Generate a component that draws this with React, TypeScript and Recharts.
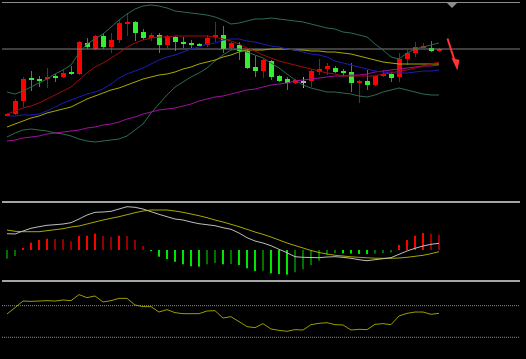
import React from "react";
import { ComposedChart, Bar, Line, XAxis, YAxis, ReferenceLine } from "recharts";

// price panel (arbitrary price units)
const opens = [85, 86, 99, 122, 121, 122, 124, 123, 128, 126, 157, 151, 164, 153, 160, 176, 178, 168, 162, 165, 155, 163, 158, 157, 156, 155, 163, 165, 152, 155, 149, 133, 129, 139, 124, 121, 117, 119, 119, 128, 131, 132, 129, 128, 117, 119, 115, 124, 126, 123, 141, 147, 152, 152, 149];
const highs = [87, 101, 123, 129, 124, 132, 126, 131, 134, 159, 162, 165, 167, 167, 180, 187, 179, 171, 167, 167, 165, 164, 163, 160, 157, 165, 178, 174, 158, 158, 150, 144, 141, 140, 125, 123, 121, 123, 131, 141, 137, 134, 131, 137, 120, 130, 125, 130, 128, 147, 150, 158, 157, 159, 152];
const lows = [84, 85, 93, 109, 113, 112, 118, 122, 125, 125, 151, 150, 151, 147, 157, 164, 159, 160, 159, 147, 152, 149, 152, 152, 154, 153, 158, 147, 150, 140, 131, 123, 122, 120, 118, 110, 116, 112, 113, 125, 125, 127, 124, 108, 97, 110, 114, 123, 118, 118, 135, 143, 152, 148, 148];
const closes = [86, 99, 121, 120, 119, 123, 122, 127, 126, 158, 153, 164, 153, 160, 177, 178, 167, 162, 165, 155, 164, 158, 156, 156, 155, 162, 165, 151, 157, 149, 132, 129, 140, 123, 119, 117, 120, 119, 129, 131, 134, 128, 127, 117, 119, 115, 124, 126, 122, 141, 147, 153, 154, 149, 151];
const lastBid = 151;

const bbUpper = [108, 106, 109, 113, 117, 121, 126, 130, 135, 147, 156, 161, 166, 173, 180, 186, 191, 194, 195, 194, 192, 189, 188, 187, 186, 185, 183, 180, 176, 177, 179, 181, 181, 182, 181, 180, 179, 178, 176, 174, 172, 171, 168, 167, 165, 163, 156, 150, 143, 141, 147, 151, 153, 155, 157];
const bbLower = [63, 67, 70, 71, 70, 69, 67, 66, 64, 61, 59, 58, 59, 60, 61, 64, 70, 76, 87, 96, 105, 113, 118, 123, 127, 132, 139, 145, 150, 151, 148, 145, 142, 137, 132, 126, 120, 115, 112, 110, 108, 108, 107, 106, 104, 103, 105, 108, 110, 112, 110, 108, 106, 105, 105];
const maRed = [86, 89, 92, 94, 97, 101, 105, 109, 113, 120, 127, 133, 137, 142, 147, 153, 157, 160, 162, 163, 163, 164, 164, 164, 164, 164, 163, 161, 159, 156, 152, 149, 145, 142, 139, 137, 135, 133, 131, 129, 127, 126, 124, 124, 124, 124, 124, 126, 127, 129, 130, 132, 134, 136, 138];
const maBlue = [84, 84, 85, 85, 86, 89, 93, 97, 100, 103, 106, 108, 111, 116, 122, 126, 129, 132, 136, 140, 143, 145, 148, 151, 153, 156, 157, 160, 161, 161, 159, 158, 156, 154, 153, 151, 150, 148, 146, 145, 143, 139, 137, 135, 133, 131, 129, 128, 127, 127, 127, 128, 129, 129, 130];
const maOlive = [73, 76, 79, 82, 84, 87, 89, 91, 93, 97, 101, 104, 107, 110, 112, 115, 118, 121, 123, 125, 126, 128, 131, 133, 136, 138, 140, 143, 145, 148, 150, 150, 150, 151, 151, 151, 150, 150, 149, 149, 148, 148, 147, 146, 144, 142, 140, 138, 137, 136, 136, 136, 136, 136, 136];
const maPurple = [59, 60, 62, 63, 64, 66, 67, 68, 69, 70, 72, 73, 75, 76, 78, 81, 83, 86, 88, 90, 91, 92, 94, 96, 99, 101, 103, 104, 106, 108, 110, 111, 113, 115, 116, 117, 119, 120, 121, 122, 123, 124, 124, 125, 125, 126, 128, 129, 130, 131, 132, 133, 134, 134, 135];

// MACD panel
const macdHist = [-8.7, -6, 2, 7.3, 10, 11.3, 11, 10.7, 8.7, 14, 14.3, 16.3, 14, 13, 14.3, 14, 10, 4, -0.7, -6.7, -9, -11.7, -14.3, -16.3, -16.7, -14.3, -13, -14.3, -14, -15, -18.3, -21, -20.7, -23.3, -24, -24.7, -22.3, -19.3, -15, -10.7, -5, -3, -3.3, -3.6, -3.9, -4.2, -3.5, -3, -2.5, 5, 10, 14.3, 17, 16.3, 15.3];
const macdMain = [16.3, 16, 19, 21.7, 23.3, 24.7, 25.3, 26, 27.3, 31, 35, 37.7, 38, 38.7, 41, 43.3, 42.7, 41, 38.3, 35.7, 33.3, 31, 30, 28, 26.3, 25.3, 24.3, 22.3, 20.7, 17, 12.3, 9, 7, 4.3, 0.7, -2.7, -6.7, -7.3, -7.5, -7.7, -7, -6.7, -7.3, -8.3, -9.7, -10.7, -9.7, -8.7, -7.7, -4.3, -1, 1.7, 4, 5.7, 6.7];
const macdSignal = [20, 18.7, 18.3, 18.3, 18.3, 19.3, 20.3, 21.3, 23, 24, 26, 28, 30, 31.7, 33.3, 35.3, 37.3, 39, 40, 40, 40, 39, 37.7, 36, 34.3, 32.3, 30, 28, 25.7, 23.3, 20.7, 18, 15.7, 13, 10, 7, 4.5, 2, -0.5, -2.5, -4, -5.3, -6, -6.8, -7.3, -7.8, -8.2, -8.3, -8.3, -8, -7.3, -6.3, -5.3, -3.7, -1.7];

// RSI panel
const rsi = [59.5, 67.5, 75.9, 75.5, 75.9, 76.4, 75.9, 77.2, 76.4, 84, 80.2, 82.3, 74.7, 76.4, 79.3, 79.3, 70.9, 68.8, 68.8, 62, 65, 61.2, 59.9, 59.9, 59.9, 63.3, 63.7, 54.4, 56.1, 49.8, 43.5, 42.2, 47.3, 40.5, 38.8, 37.6, 39.7, 39.2, 46, 47.7, 48.5, 46, 45.6, 39.2, 40.1, 39.7, 46.4, 47.3, 46, 57, 60.3, 62, 62, 59.1, 60.3];
const rsiLevels = [70, 30];

const rows = opens.map((open, i) => {
  const h = macdHist[i];
  const prev = i > 0 ? macdHist[i - 1] : h;
  let histColor;
  if (h >= 0) histColor = h > prev ? "#ff0000" : "#940000";
  else histColor = h < prev ? "#00e600" : "#007000";
  return {
    i,
    open,
    high: highs[i],
    low: lows[i],
    close: closes[i],
    range: [lows[i], highs[i]],
    bbUpper: bbUpper[i],
    bbLower: bbLower[i],
    maRed: maRed[i],
    maBlue: maBlue[i],
    maOlive: maOlive[i],
    maPurple: maPurple[i],
    hist: h,
    histColor,
    macd: macdMain[i],
    signal: macdSignal[i],
    rsi: rsi[i],
  };
});

const W = 526;
const X_DOMAIN = [-0.625, 64.125];
const MARGIN = { top: 0, right: 6, bottom: 0, left: 2 };

function Candle(props: any) {
  const { x, y, width, height, payload } = props;
  if (x == null || y == null) return null;
  const top = Math.min(y, y + height);
  const h = Math.abs(height);
  const { open, high, low, close } = payload;
  const span = high - low || 1;
  const yAt = (v: number) => top + ((high - v) / span) * h;
  const cx = Math.round(x + width / 2);
  const doji = open === close;
  const up = close > open;
  const body = doji ? "#b0b0b0" : up ? "#ff0000" : "#33ee33";
  const wick = doji ? "#b0b0b0" : up ? "#c40000" : "#1f9f1f";
  const bTop = Math.round(yAt(Math.max(open, close)));
  const bBot = Math.round(yAt(Math.min(open, close)));
  return (
    <g>
      <line x1={cx + 0.5} x2={cx + 0.5} y1={Math.round(top)} y2={Math.round(top + h)} stroke={wick} strokeWidth={1} />
      <rect x={cx - 2} y={bTop} width={5} height={Math.max(2, bBot - bTop)} fill={body} />
    </g>
  );
}

function HistBar(props: any) {
  const { x, y, width, height, payload } = props;
  if (x == null || y == null) return null;
  const top = Math.min(y, y + height);
  const h = Math.max(1, Math.abs(height));
  return <rect x={Math.round(x + width / 2) - 1} y={top} width={2} height={h} fill={payload.histColor} />;
}

const box = (top: number, height: number): React.CSSProperties => ({
  position: "absolute",
  left: 0,
  top,
  width: W,
  height,
});

export default function App() {
  return (
    <div style={{ position: "absolute", left: 0, top: 0, width: W, height: 359, background: "#000", overflow: "hidden" }}>
      {/* frame lines */}
      <div style={{ position: "absolute", left: 2, top: 2, width: 518, height: 1, background: "#8c8c8c" }} />
      <div style={{ position: "absolute", left: 2, top: 201, width: 518, height: 2, background: "#a4a4a4" }} />
      <div style={{ position: "absolute", left: 2, top: 280, width: 518, height: 2, background: "#a4a4a4" }} />

      <div style={box(0, 200)}>
        <ComposedChart width={W} height={200} data={rows} margin={MARGIN}>
          <XAxis dataKey="i" type="number" domain={X_DOMAIN} allowDataOverflow hide />
          <YAxis type="number" domain={[0, 200]} allowDataOverflow hide />
          <ReferenceLine y={lastBid} stroke="#7e7e7e" strokeWidth={1} />
          <Line dataKey="bbUpper" stroke="#2f6a4f" dot={false} strokeWidth={1} isAnimationActive={false} />
          <Line dataKey="bbLower" stroke="#2f6a4f" dot={false} strokeWidth={1} isAnimationActive={false} />
          <Line dataKey="maPurple" stroke="#a010a0" dot={false} strokeWidth={1} isAnimationActive={false} />
          <Line dataKey="maOlive" stroke="#aaaa00" dot={false} strokeWidth={1} isAnimationActive={false} />
          <Line dataKey="maBlue" stroke="#1c1cb8" dot={false} strokeWidth={1} isAnimationActive={false} />
          <Line dataKey="maRed" stroke="#a00c0c" dot={false} strokeWidth={1} isAnimationActive={false} />
          <Bar dataKey="range" barSize={5} shape={(p: any) => <Candle {...p} />} isAnimationActive={false} />
        </ComposedChart>
      </div>

      <div style={box(203, 77)}>
        <ComposedChart width={W} height={77} data={rows} margin={MARGIN}>
          <XAxis dataKey="i" type="number" domain={X_DOMAIN} allowDataOverflow hide />
          <YAxis type="number" domain={[-30, 47]} allowDataOverflow hide />
          <Bar dataKey="hist" barSize={2} shape={(p: any) => <HistBar {...p} />} isAnimationActive={false} />
          <Line dataKey="signal" stroke="#a8a800" dot={false} strokeWidth={1} isAnimationActive={false} />
          <Line dataKey="macd" stroke="#bdbdbd" dot={false} strokeWidth={1} isAnimationActive={false} />
        </ComposedChart>
      </div>

      <div style={box(282, 79)}>
        <ComposedChart width={W} height={79} data={rows} margin={MARGIN}>
          <XAxis dataKey="i" type="number" domain={X_DOMAIN} allowDataOverflow hide />
          <YAxis type="number" domain={[0, 100]} allowDataOverflow hide />
          {rsiLevels.map((lv) => (
            <ReferenceLine key={lv} y={lv} stroke="#8c8c8c" strokeDasharray="1 1" />
          ))}
          <Line dataKey="rsi" stroke="#9c9c00" dot={false} strokeWidth={1} isAnimationActive={false} />
        </ComposedChart>
      </div>

      {/* chart shift marker and hand-drawn arrow */}
      <svg width={W} height={359} style={{ position: "absolute", left: 0, top: 0, pointerEvents: "none" }}>
        <polygon points="447,3 457,3 452,8" fill="#8c8c8c" />
        <line x1={447.5} y1={38.5} x2={455} y2={62} stroke="#ff3434" strokeWidth={2} />
        <polygon points="451.5,58 459.5,60 457.3,70.5" fill="#ff3434" />
      </svg>
    </div>
  );
}
